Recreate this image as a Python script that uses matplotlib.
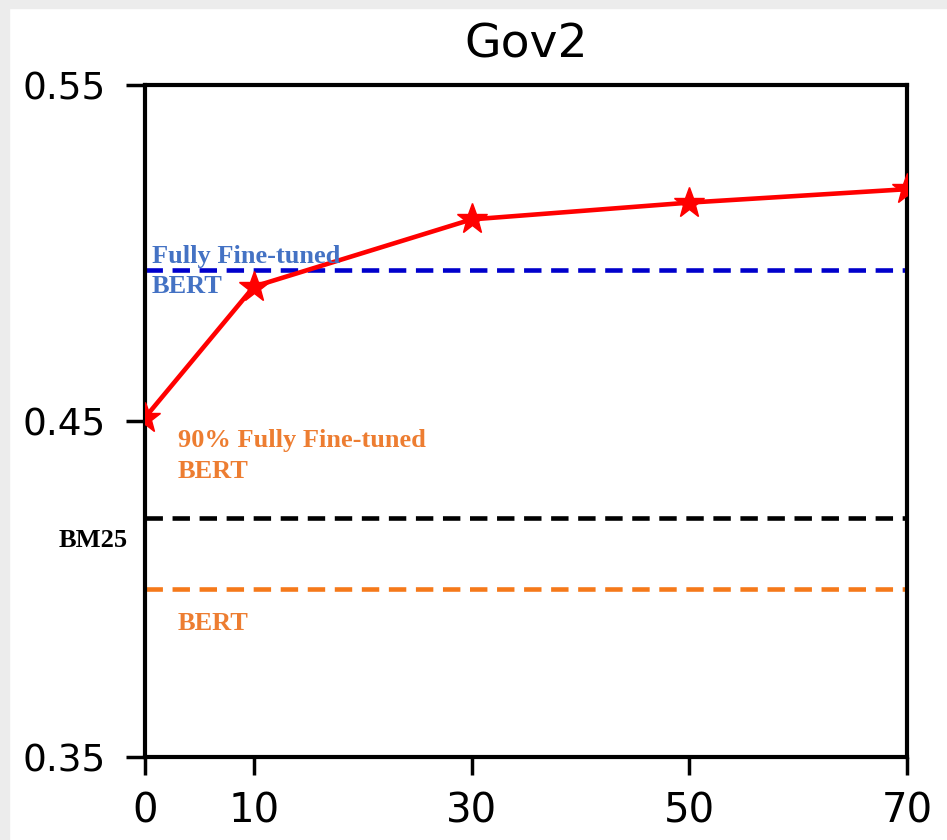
import matplotlib
matplotlib.use("Agg")
import matplotlib.pyplot as plt
from matplotlib.patches import Rectangle

# data
percent = [0, 10, 30, 50, 70]
scores = [0.451, 0.490, 0.510, 0.515, 0.519]
full_bert = 0.495
bm25 = 0.421
bert = 0.400
xticks = [0, 10, 30, 50, 70]
yticks = [0.35, 0.45, 0.55]
ytick_labels = ["0.35", "0.45", "0.55"]

fig = plt.figure(figsize=(9.47, 8.40), dpi=100)
fig.patches.append(Rectangle((0, 0), 0.009, 1, transform=fig.transFigure,
                             color="#ececec", zorder=0))
fig.patches.append(Rectangle((0, 0.99), 1, 0.01, transform=fig.transFigure,
                             color="#ececec", zorder=0))
ax = fig.add_axes([0.1531, 0.0988, 0.8047, 0.8])

ax.plot(percent, scores, color="red", lw=3.3, marker="*", markersize=23, zorder=3)
ax.axhline(full_bert, color="#0000cc", lw=3.3, ls=(0, (3.8, 2.1)))
ax.axhline(bm25, color="black", lw=3.3, ls=(0, (3.8, 2.1)))
ax.axhline(bert, color="#f5791a", lw=3.3, ls=(0, (3.8, 2.1)))

ax.set_xlim(0, 70)
ax.set_ylim(0.35, 0.55)
ax.set_xticks(xticks)
ax.set_yticks(yticks)
ax.set_yticklabels(ytick_labels)
ax.tick_params(axis="y", labelsize=27, width=2.5, length=13.5, direction="out", pad=15)
ax.tick_params(axis="x", labelsize=29, width=2.5, length=13, direction="out", pad=12)
for s in ax.spines.values():
    s.set_linewidth(3)
ax.set_title("Gov2", fontsize=34, pad=20)

tfont = dict(family="Liberation Serif", weight="bold", fontsize=19, va="baseline")
ax.text(0.64, 0.497, "Fully Fine-tuned", color="#4472c4", ha="left", **tfont)
ax.text(0.64, 0.4881, "BERT", color="#4472c4", ha="left", **tfont)
ax.text(3.0, 0.4423, "90% Fully Fine-tuned", color="#ed7d31", ha="left", **tfont)
ax.text(3.0, 0.4330, "BERT", color="#ed7d31", ha="left", **tfont)
ax.text(-1.6, 0.4125, "BM25", color="black", ha="right", **tfont)
ax.text(3.0, 0.3878, "BERT", color="#ed7d31", ha="left", **tfont)

fig.savefig("out.png", dpi=100)
